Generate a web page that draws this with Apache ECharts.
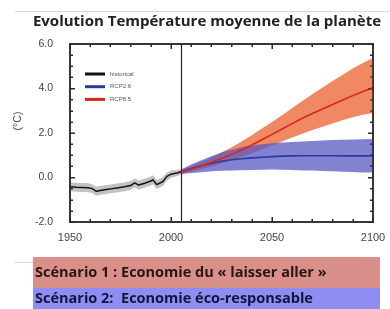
<!DOCTYPE html>
<html>
<head>
<meta charset="utf-8">
<script src="https://cdn.jsdelivr.net/npm/echarts@6/dist/echarts.min.js"></script>
<style>
  html, body { margin: 0; padding: 0; background: #fff; }
  #chart { width: 390px; height: 309px; }
</style>
</head>
<body>
<div id="chart"></div>
<script>
// historical run (1950-2005)
const histYears = [1950, 1953, 1956, 1959, 1961, 1963, 1965, 1968, 1971, 1974, 1977, 1980, 1982, 1984, 1987, 1990, 1991, 1993, 1996, 1998, 2000, 2003, 2005];
const histMean  = [-0.42, -0.44, -0.45, -0.46, -0.5, -0.62, -0.58, -0.54, -0.5, -0.46, -0.42, -0.36, -0.24, -0.34, -0.26, -0.16, -0.1, -0.32, -0.18, 0.05, 0.15, 0.2, 0.26];
const histLow   = [-0.62, -0.64, -0.65, -0.66, -0.7, -0.82, -0.78, -0.74, -0.7, -0.66, -0.62, -0.56, -0.44, -0.54, -0.46, -0.36, -0.3, -0.52, -0.38, -0.13, -0.01, 0.06, 0.15];
const histHigh  = [-0.22, -0.24, -0.25, -0.26, -0.3, -0.42, -0.38, -0.34, -0.3, -0.26, -0.22, -0.16, -0.04, -0.14, -0.06, 0.04, 0.1, -0.12, 0.02, 0.23, 0.31, 0.34, 0.37];

// scenarios (2005-2100)
const projYears = [2005, 2010, 2015, 2020, 2025, 2030, 2035, 2040, 2045, 2050, 2055, 2060, 2065, 2070, 2075, 2080, 2085, 2090, 2095, 2100];
const rcp26Mean = [0.26, 0.4, 0.53, 0.64, 0.73, 0.8, 0.84, 0.88, 0.91, 0.94, 0.96, 0.97, 0.98, 0.98, 0.98, 0.98, 0.97, 0.97, 0.97, 0.97];
const rcp26Low  = [0.16, 0.2, 0.24, 0.28, 0.3, 0.32, 0.33, 0.34, 0.35, 0.36, 0.35, 0.34, 0.32, 0.31, 0.29, 0.28, 0.26, 0.25, 0.23, 0.22];
const rcp26High = [0.36, 0.58, 0.78, 0.96, 1.12, 1.25, 1.36, 1.44, 1.5, 1.54, 1.57, 1.6, 1.62, 1.64, 1.66, 1.68, 1.7, 1.71, 1.72, 1.73];
const rcp85Mean = [0.26, 0.38, 0.52, 0.68, 0.85, 1.04, 1.24, 1.46, 1.7, 1.94, 2.18, 2.42, 2.66, 2.88, 3.08, 3.28, 3.48, 3.68, 3.87, 4.05];
const rcp85Low  = [0.16, 0.26, 0.37, 0.5, 0.63, 0.78, 0.93, 1.09, 1.26, 1.44, 1.62, 1.8, 1.97, 2.13, 2.28, 2.43, 2.58, 2.71, 2.82, 2.9];
const rcp85High = [0.36, 0.52, 0.7, 0.9, 1.12, 1.36, 1.62, 1.9, 2.2, 2.5, 2.8, 3.12, 3.44, 3.74, 4.04, 4.34, 4.62, 4.9, 5.15, 5.37];

const yTicks = [-2, 0, 2, 4, 6];
const title = 'Evolution Température moyenne de la planète';
const scenario1 = 'Scénario 1 : Economie du « laisser aller »';
const scenario2 = 'Scénario 2:  Economie éco-responsable';

const X_MIN = 1950, X_MAX = 2100, Y_MIN = -2, Y_MAX = 6;

const axisFont = "'Liberation Sans', Arial, sans-serif";
const boxFont = "'Open Sans', sans-serif";

function pairs(xs, ys) {
  return xs.map((x, i) => [x, ys[i]]);
}

// band drawn as one polygon through the chart's own coord system
function band(xs, lo, hi, fill, z) {
  return {
    type: 'custom',
    silent: true,
    z: z,
    data: xs.map((x, i) => [x, lo[i], hi[i]]),
    encode: { x: 0, y: [1, 2] },
    renderItem: function (params, api) {
      if (params.dataIndex !== 0) return null;
      const top = xs.map((x, i) => api.coord([x, hi[i]]));
      const bot = xs.map((x, i) => api.coord([x, lo[i]])).reverse();
      return {
        type: 'polygon',
        shape: { points: top.concat(bot) },
        style: { fill: fill }
      };
    }
  };
}

// box round the plot with inside ticks on all four sides, built as filled bars
function frame() {
  return {
    type: 'custom',
    silent: true,
    z: 10,
    data: [[X_MIN, Y_MIN]],
    encode: { x: 0, y: 1 },
    renderItem: function (params, api) {
      const tl = api.coord([X_MIN, Y_MAX]);
      const br = api.coord([X_MAX, Y_MIN]);
      const left = Math.round(tl[0]), top = Math.round(tl[1]);
      const right = Math.round(br[0]), bottom = Math.round(br[1]);
      const w = 1.5;
      const fill = { fill: '#2a2a2a' };
      const kids = [
        { type: 'rect', shape: { x: left - w / 2, y: top - w / 2, width: right - left + w, height: w }, style: fill },
        { type: 'rect', shape: { x: left - w / 2, y: bottom - w / 2, width: right - left + w, height: w }, style: fill },
        { type: 'rect', shape: { x: left - w / 2, y: top - w / 2, width: w, height: bottom - top + w }, style: fill },
        { type: 'rect', shape: { x: right - w / 2, y: top - w / 2, width: w, height: bottom - top + w }, style: fill }
      ];
      for (let x = X_MIN + 10; x < X_MAX; x += 10) {
        const len = x % 50 === 0 ? 5 : 3;
        const px = Math.round(api.coord([x, Y_MIN])[0]) - 0.5;
        kids.push({ type: 'rect', shape: { x: px, y: bottom - len, width: 1, height: len }, style: fill });
        kids.push({ type: 'rect', shape: { x: px, y: top, width: 1, height: len }, style: fill });
      }
      for (let i = 1; i < 16; i++) {
        const y = Y_MIN + i * 0.5;
        const len = i % 4 === 0 ? 5 : 3;
        const py = Math.round(api.coord([X_MIN, y])[1]) - 0.5;
        kids.push({ type: 'rect', shape: { x: left, y: py, width: len, height: 1 }, style: fill });
        kids.push({ type: 'rect', shape: { x: right - len, y: py, width: len, height: 1 }, style: fill });
      }
      return { type: 'group', children: kids };
    }
  };
}

function frameAxis(pos, isX) {
  const a = {
    type: 'value',
    position: pos,
    axisLine: { show: true, onZero: false, lineStyle: { color: '#2a2a2a', width: 1.5 } },
    axisTick: { show: true, inside: true, length: 5 },
    minorTick: { show: true, splitNumber: isX ? 5 : 4, length: 3 },
    splitLine: { show: false },
    axisLabel: { show: false }
  };
  if (isX) { a.min = X_MIN; a.max = X_MAX; a.interval = 50; }
  else { a.min = Y_MIN; a.max = Y_MAX; a.interval = 2; }
  return a;
}

// a box of text (title component used as a coloured banner)
function banner(text, top, height, fill, color) {
  return {
    text: text,
    left: 33,
    top: top,
    backgroundColor: fill,
    padding: [(height - 16) / 2, 2],
    textStyle: { width: 343, lineHeight: 16, fontSize: 14.5, fontWeight: 'bold', color: color, fontFamily: boxFont }
  };
}

function rule(left, top, halfWidth) {
  return {
    text: ' ',
    left: left,
    top: top,
    backgroundColor: '#d8d8d8',
    padding: [0, halfWidth],
    textStyle: { fontSize: 1, lineHeight: 1 }
  };
}

const chart = echarts.init(document.getElementById('chart'));

const xMain = frameAxis('bottom', true);
xMain.axisLabel = {
  show: true, margin: 10, fontSize: 11, color: '#444', fontFamily: axisFont,
  showMinLabel: true, showMaxLabel: true,
  formatter: v => String(v)
};
const yMain = frameAxis('left', false);
yMain.axisLabel = {
  show: true, margin: 17, fontSize: 10.5, color: '#444', fontFamily: axisFont,
  formatter: v => yTicks.includes(v) ? v.toFixed(1) : ''
};
yMain.name = '(°C)';
yMain.nameLocation = 'middle';
yMain.nameRotate = 90;
yMain.nameGap = 46;
yMain.nameTextStyle = { fontSize: 10.5, color: '#444', fontFamily: axisFont, padding: [0, 0, 0, 24] };

chart.setOption({
  animation: false,
  backgroundColor: '#fff',
  title: [
    rule(15, 11, 187.5),
    rule(15, 262, 9),
    {
      text: title,
      left: 202,
      textAlign: 'center',
      top: 9,
      textStyle: { fontFamily: boxFont, fontWeight: 'bold', fontSize: 15, color: '#222' }
    },
    banner(scenario1, 257, 31, '#d98f8a', '#2a1414'),
    banner(scenario2, 288, 21, '#8e8ef2', '#14143a')
  ],
  grid: { left: 70, right: 17, top: 44, bottom: 87, outerBoundsMode: 'none' },
  legend: {
    orient: 'vertical',
    left: 80,
    top: 66,
    icon: 'rect',
    itemWidth: 20,
    itemHeight: 3,
    itemGap: 6.7,
    data: ['historical', 'RCP2.6', 'RCP8.5'],
    textStyle: { fontSize: 6, color: '#555', fontFamily: axisFont }
  },
  xAxis: [xMain, frameAxis('top', true)],
  yAxis: [yMain, frameAxis('right', false)],
  series: [
    band(projYears, rcp85Low, rcp85High, 'rgba(238,120,78,0.88)', 2),
    band(projYears, rcp26Low, rcp26High, 'rgba(88,90,192,0.75)', 3),
    band(histYears, histLow, histHigh, 'rgba(120,120,128,0.45)', 3),
    {
      name: 'RCP2.6', type: 'line', z: 4, symbol: 'none',
      data: pairs(projYears, rcp26Mean),
      itemStyle: { color: '#2b3a9e' },
      lineStyle: { color: '#2b3a9e', width: 1.6 }
    },
    {
      name: 'RCP8.5', type: 'line', z: 5, symbol: 'none',
      data: pairs(projYears, rcp85Mean),
      itemStyle: { color: '#d9261c' },
      lineStyle: { color: '#d9261c', width: 1.6 }
    },
    {
      name: 'historical', type: 'line', z: 6, symbol: 'none',
      data: pairs(histYears, histMean),
      itemStyle: { color: '#111' },
      lineStyle: { color: '#111', width: 1.5 },
      markLine: {
        silent: true, symbol: 'none', label: { show: false },
        emphasis: { disabled: true },
        lineStyle: { color: '#222', width: 1.2, type: 'solid' },
        data: [{ xAxis: 2005 }]
      }
    },
    frame()
  ]
});
</script>
</body>
</html>
